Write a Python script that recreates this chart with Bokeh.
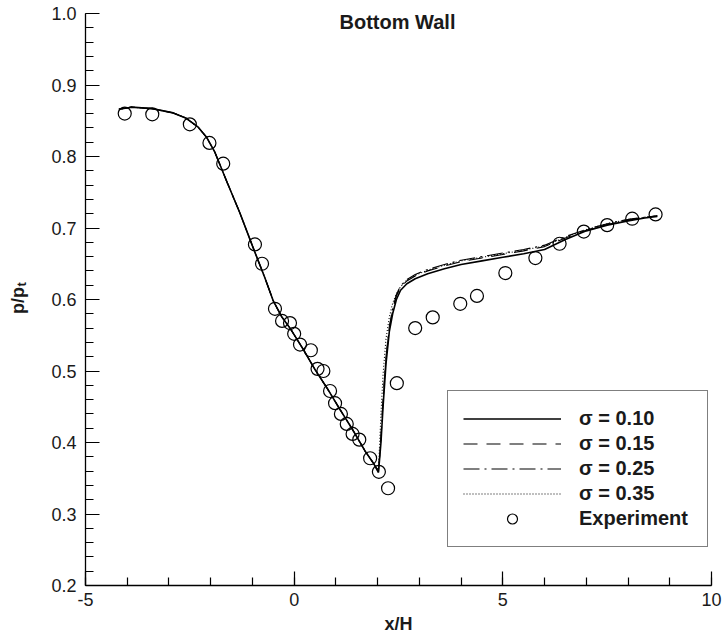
import math
from bokeh.plotting import figure
from bokeh.layouts import row
from bokeh.models import (Range1d, FixedTicker, PrintfTickFormatter, Label,
                          Legend, LegendItem)
from bokeh.embed import file_html
from bokeh.resources import INLINE

# ---------------- data ----------------
x_ticks = [-5, 0, 5, 10]
y_ticks = [0.2, 0.3, 0.4, 0.5, 0.6, 0.7, 0.8, 0.9, 1.0]

sim_x = [-4.2, -3.9, -3.4, -2.9, -2.6, -2.3, -2.1, -1.9, -1.6, -1.3, -1.0, -0.7,
         -0.5, -0.3, -0.1, 0.2, 0.5, 0.8, 1.1, 1.4, 1.7, 1.9, 2.02, 2.08, 2.13,
         2.2, 2.28, 2.36, 2.45, 2.55, 2.7, 2.9, 3.2, 3.6, 4.0, 4.5, 5.0, 5.5,
         6.0, 6.5, 7.0, 7.5, 8.0, 8.4, 8.7]

sigma_010 = [0.866, 0.869, 0.867, 0.861, 0.854, 0.841, 0.827, 0.806, 0.763, 0.721,
             0.675, 0.630, 0.598, 0.576, 0.560, 0.532, 0.502, 0.475, 0.446, 0.418,
             0.388, 0.371, 0.358, 0.400, 0.450, 0.510, 0.555, 0.580, 0.600, 0.613,
             0.622, 0.629, 0.636, 0.643, 0.649, 0.654, 0.659, 0.664, 0.670, 0.684,
             0.696, 0.704, 0.710, 0.714, 0.716]
sigma_015 = [0.866, 0.869, 0.867, 0.861, 0.854, 0.841, 0.827, 0.806, 0.763, 0.721,
             0.675, 0.630, 0.598, 0.576, 0.560, 0.532, 0.502, 0.475, 0.446, 0.418,
             0.388, 0.371, 0.359, 0.405, 0.458, 0.517, 0.560, 0.585, 0.605, 0.617,
             0.626, 0.633, 0.640, 0.647, 0.653, 0.658, 0.663, 0.668, 0.674, 0.686,
             0.697, 0.705, 0.711, 0.715, 0.717]
sigma_025 = [0.866, 0.869, 0.867, 0.861, 0.854, 0.841, 0.827, 0.806, 0.763, 0.721,
             0.675, 0.630, 0.598, 0.576, 0.560, 0.532, 0.502, 0.475, 0.446, 0.418,
             0.388, 0.371, 0.359, 0.408, 0.462, 0.520, 0.562, 0.587, 0.607, 0.619,
             0.628, 0.635, 0.642, 0.649, 0.655, 0.660, 0.665, 0.670, 0.676, 0.688,
             0.698, 0.706, 0.712, 0.715, 0.717]
sigma_035 = [0.866, 0.869, 0.867, 0.861, 0.854, 0.841, 0.827, 0.806, 0.763, 0.721,
             0.675, 0.630, 0.598, 0.576, 0.560, 0.532, 0.502, 0.475, 0.446, 0.418,
             0.388, 0.371, 0.362, 0.440, 0.495, 0.545, 0.575, 0.595, 0.608, 0.618,
             0.627, 0.634, 0.641, 0.648, 0.654, 0.659, 0.664, 0.669, 0.675, 0.687,
             0.698, 0.706, 0.712, 0.715, 0.717]

exp_x = [-4.06, -3.40, -2.50, -2.03, -1.70, -0.94, -0.77, -0.46, -0.29, -0.10,
         0.00, 0.14, 0.40, 0.56, 0.70, 0.86, 0.98, 1.12, 1.26, 1.40, 1.56, 1.82,
         2.03, 2.25, 2.46, 2.90, 3.32, 3.98, 4.38, 5.06, 5.78, 6.36, 6.94, 7.50,
         8.10, 8.66]
exp_y = [0.860, 0.859, 0.845, 0.819, 0.790, 0.677, 0.650, 0.587, 0.570, 0.567,
         0.552, 0.537, 0.529, 0.503, 0.500, 0.472, 0.455, 0.440, 0.426, 0.412,
         0.404, 0.378, 0.359, 0.336, 0.483, 0.560, 0.575, 0.594, 0.605, 0.637,
         0.658, 0.678, 0.695, 0.704, 0.713, 0.719]

labels = ["\u03c3 = 0.10", "\u03c3 = 0.15", "\u03c3 = 0.25", "\u03c3 = 0.35", "Experiment"]
title_text = "Bottom Wall"
x_label = "x/H"
y_label_main = "p/p"
y_label_sub = "t"

# ---------------- layout constants ----------------
FONT = "Liberation Sans"
TXT = "#1a1a1a"
H = 636
LAB_W = 30

# ---------------- main figure ----------------
p = figure(width=692, height=H, output_backend="svg", toolbar_location=None,
           x_range=Range1d(-5, 10), y_range=Range1d(0.2, 1.0),
           min_border_left=55, min_border_right=11, min_border_top=13,
           min_border_bottom=49)
p.outline_line_color = None
p.xgrid.visible = False
p.ygrid.visible = False
p.background_fill_color = "white"
p.border_fill_color = "white"

for ax in (p.xaxis[0], p.yaxis[0]):
    ax.axis_line_color = "black"
    ax.axis_line_width = 1.3
    ax.major_tick_line_color = "black"
    ax.minor_tick_line_color = "black"
    ax.major_tick_line_width = 1.2
    ax.minor_tick_line_width = 1.2
    ax.major_tick_in = 14
    ax.major_tick_out = 0
    ax.minor_tick_in = 8
    ax.minor_tick_out = 0
    ax.major_label_text_font = FONT
    ax.major_label_text_font_size = "18px"
    ax.major_label_text_color = TXT

p.xaxis.ticker = FixedTicker(ticks=x_ticks,
                             minor_ticks=[v for v in range(-5, 11)])
p.yaxis.ticker = FixedTicker(ticks=y_ticks,
                             minor_ticks=[round(0.2 + 0.02 * i, 2) for i in range(41)])
p.xaxis.formatter = PrintfTickFormatter(format="%d")
p.yaxis.formatter = PrintfTickFormatter(format="%.1f")
p.xaxis.major_label_standoff = 7
p.yaxis.major_label_standoff = 9

p.xaxis.axis_label = x_label
p.xaxis.axis_label_text_font = FONT
p.xaxis.axis_label_text_font_size = "18px"
p.xaxis.axis_label_text_font_style = "bold"
p.xaxis.axis_label_text_color = TXT
p.xaxis.axis_label_standoff = 5

# ---------------- series ----------------
r10 = p.line(sim_x, sigma_010, line_color="black", line_width=1.6)
r15 = p.line(sim_x, sigma_015, line_color="black", line_width=1.1, line_dash="14 9")
r25 = p.line(sim_x, sigma_025, line_color="black", line_width=1.1, line_dash="16 5 2 5")
r35 = p.line(sim_x, sigma_035, line_color="black", line_width=1.1, line_dash="1 2")
rexp = p.scatter(exp_x, exp_y, marker="circle", size=13, fill_color=None,
                 line_color="black", line_width=1.2)

legend = Legend(items=[LegendItem(label=labels[0], renderers=[r10]),
                       LegendItem(label=labels[1], renderers=[r15]),
                       LegendItem(label=labels[2], renderers=[r25]),
                       LegendItem(label=labels[3], renderers=[r35]),
                       LegendItem(label=labels[4], renderers=[rexp])],
                location=(362, 38))
legend.label_text_font = FONT
legend.label_text_font_size = "20px"
legend.label_text_font_style = "bold"
legend.label_text_color = TXT
legend.glyph_width = 98
legend.glyph_height = 25
legend.label_height = 25
legend.label_width = 113
legend.label_standoff = 18
legend.spacing = 0
legend.padding = 15
legend.margin = 0
legend.border_line_color = "black"
legend.border_line_width = 1.2
legend.background_fill_color = "white"
legend.background_fill_alpha = 1.0
p.add_layout(legend, "center")

p.add_layout(Label(x=312, y=564, x_units="screen", y_units="screen",
                   text=title_text, text_align="center", text_baseline="middle",
                   text_font=FONT, text_font_size="20px", text_font_style="bold",
                   text_color=TXT))

# ---------------- y-axis label panel (p/p with subscript t) ----------------
lab = figure(width=LAB_W, height=H, output_backend="svg", toolbar_location=None,
             x_range=Range1d(0, LAB_W), y_range=Range1d(0, H),
             x_axis_location=None, y_axis_location=None,
             min_border=0, min_border_left=0, min_border_right=0,
             min_border_top=0, min_border_bottom=0)
lab.grid.visible = False
lab.outline_line_color = None
lab.background_fill_color = "white"
lab.border_fill_color = "white"

lab.add_layout(Label(x=17, y=H - 304, text=y_label_main, angle=math.pi / 2,
                     text_align="right", text_baseline="alphabetic",
                     text_font=FONT, text_font_size="18px", text_font_style="bold",
                     text_color=TXT))
lab.add_layout(Label(x=21, y=H - 303.5, text=y_label_sub, angle=math.pi / 2,
                     text_align="left", text_baseline="alphabetic",
                     text_font=FONT, text_font_size="13px", text_font_style="bold",
                     text_color=TXT))

layout = row(lab, p, spacing=0)
open("out.html", "w").write(file_html(layout, INLINE))
